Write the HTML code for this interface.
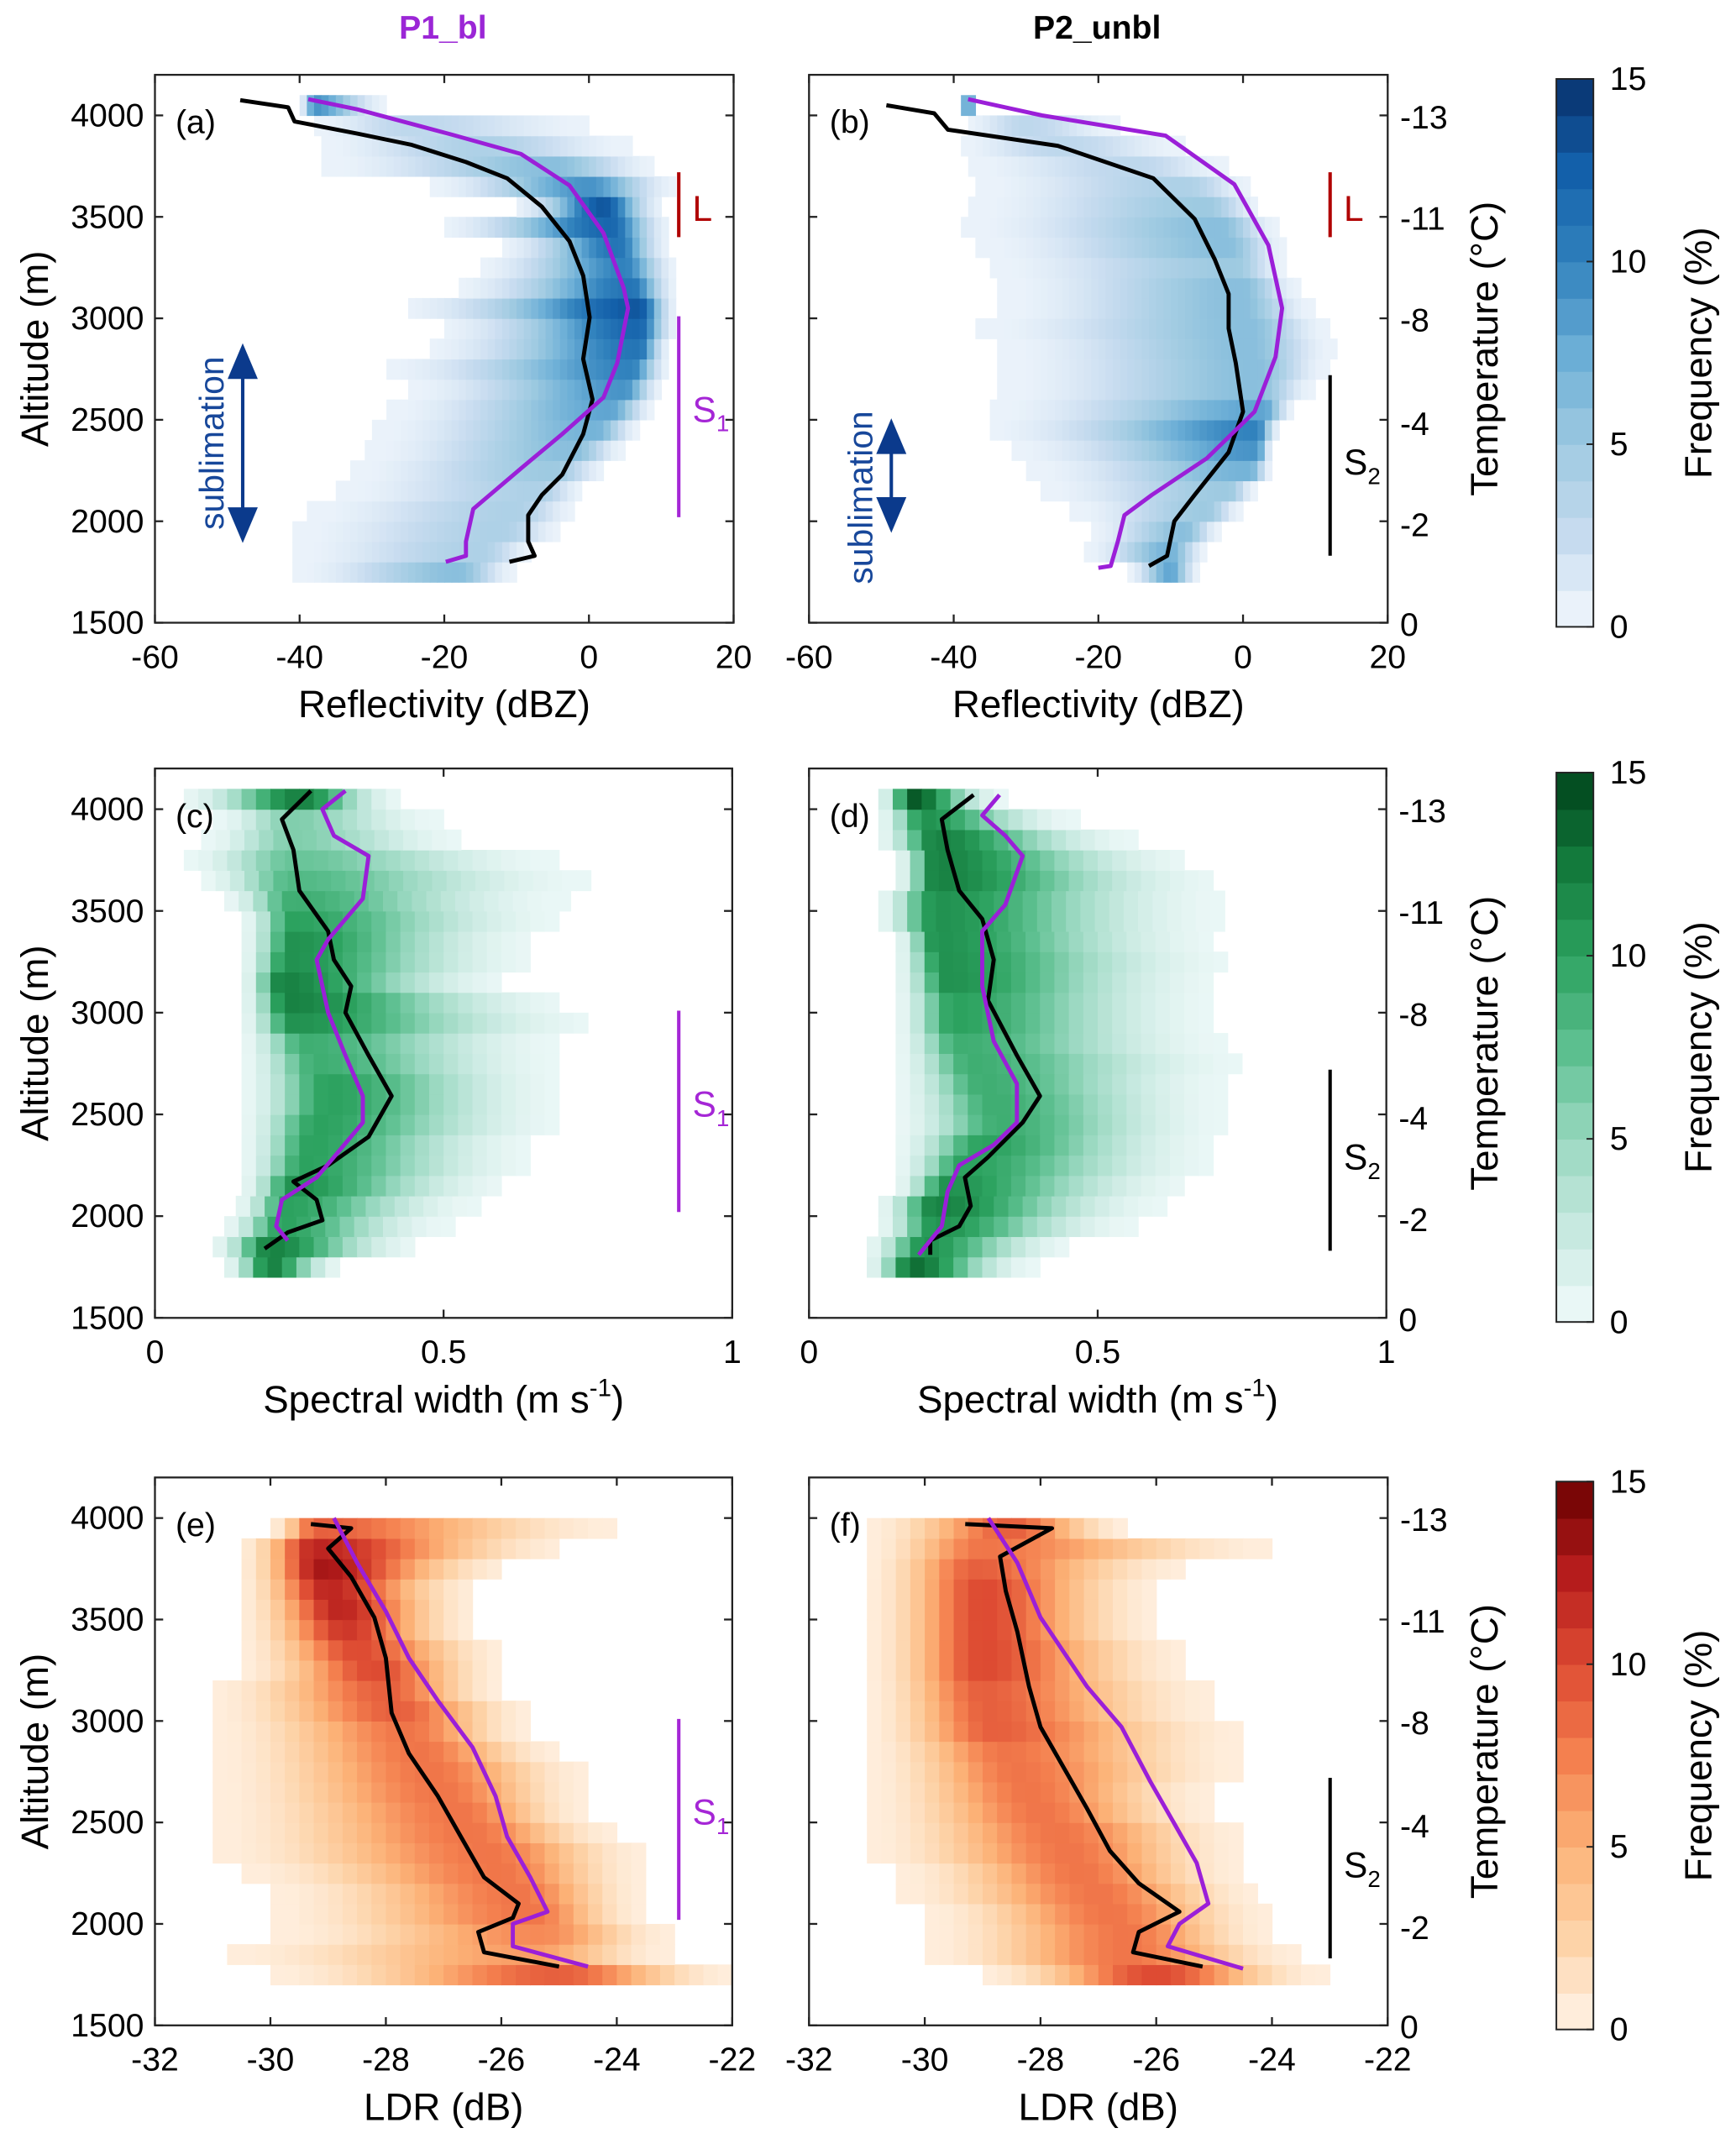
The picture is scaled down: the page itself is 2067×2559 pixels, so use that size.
<!DOCTYPE html>
<html><head><meta charset="utf-8"><style>
html,body{margin:0;padding:0;background:#fff}
svg{display:block}
text{font-family:"Liberation Sans",Arial,sans-serif}
</style></head><body>
<svg id="fig" xmlns="http://www.w3.org/2000/svg" width="2067" height="2559" viewBox="0 0 1266 1567">
<rect width="1266" height="1567" fill="#fff"/>
<text x="323" y="28" font-size="24" font-weight="bold" fill="#9b26d6" text-anchor="middle">P1_bl</text>
<text x="800" y="28" font-size="24" font-weight="bold" fill="#000" text-anchor="middle">P2_unbl</text>
<g id="layer"></g>
</svg>
<script>
// ---- data ----
const rowAlts=[1750,1850,1950,2050,2150,2250,2350,2450,2550,2650,2750,2850,2950,3050,3150,3250,3350,3450,3550,3650,3750,3850,3950,4050];
const aLo=[-42,-44,-44,-42,-38,-35,-32,-30,-28,-25,-28,-22,-20,-25,-18,-15,-12,-20,-10,-22,-38,-40,-40,-40];
const aHi=[-10,-7,-3,-1,0,3,5,7,9,10,11,11,12,12,12,12,11,11,10,12,10,8,5,-28];
const aMode=[-18,-15,-12,-10,-7,-5,-2,1,3,5,6,7,7,7,6,5,4,3,2,0,-5,-15,-25,-38];
const aPeak=[6,4,4,4,4,5,6,7,8,9,10,11,12,13,11,10,11,12,13,9,6,4,3,9];
const bLo=[-16,-22,-22,-25,-30,-30,-32,-35,-35,-35,-35,-35,-38,-35,-35,-38,-38,-40,-40,-40,-42,-42,-40,-39];
const bHi=[-6,-5,-3,0,2,4,4,5,7,10,12,13,12,10,8,6,6,5,3,2,0,-5,-15,-37];
const bMode=[-10,-10,-8,-5,-2,1,2,2,3,2,2,1,1,0,0,-1,-2,-3,-5,-8,-15,-25,-30,-38];
const bPeak=[8,7,6,5,5,7,9,10,8,6,6,6,6,6,6,5,6,6,5,4,3,3,3,9];
const cLo=[0.12,0.1,0.12,0.14,0.15,0.15,0.15,0.15,0.15,0.15,0.15,0.15,0.15,0.15,0.15,0.15,0.15,0.15,0.12,0.08,0.05,0.08,0.1,0.05];
const cHi=[0.32,0.45,0.5,0.55,0.6,0.65,0.65,0.7,0.7,0.7,0.7,0.7,0.75,0.7,0.6,0.65,0.65,0.7,0.7,0.75,0.7,0.55,0.5,0.42];
const cMode=[0.2,0.2,0.22,0.23,0.24,0.26,0.27,0.28,0.3,0.3,0.28,0.26,0.24,0.23,0.22,0.23,0.24,0.24,0.24,0.24,0.24,0.24,0.24,0.25];
const cPeak=[12,12,10,10,11,10,10,10,10,10,9,9,11,12,12,11,11,10,9,8,7,6,6,12];
const dLo=[0.1,0.1,0.12,0.12,0.15,0.15,0.15,0.15,0.15,0.15,0.15,0.15,0.15,0.15,0.15,0.15,0.15,0.12,0.12,0.15,0.15,0.12,0.12,0.12];
const dHi=[0.38,0.45,0.55,0.6,0.65,0.7,0.7,0.72,0.72,0.72,0.75,0.72,0.7,0.7,0.7,0.72,0.7,0.7,0.7,0.7,0.65,0.55,0.45,0.33];
const dMode=[0.18,0.2,0.22,0.22,0.24,0.27,0.3,0.33,0.32,0.3,0.28,0.26,0.25,0.25,0.24,0.23,0.22,0.22,0.22,0.22,0.22,0.22,0.2,0.18];
const dPeak=[13,11,11,12,11,10,10,9,9,9,9,9,10,10,11,11,11,11,11,12,12,12,11,14];
const eLo=[-30,-31,-30,-30,-30,-30.5,-31,-31,-31,-31,-31,-31,-31,-31,-31,-30.5,-30.5,-30.5,-30.5,-30.5,-30.5,-30.5,-30];
const eHi=[-22,-23,-23,-23.5,-23.5,-23.5,-23.5,-24,-24.5,-24.5,-24.5,-25,-25.5,-25.5,-26,-26,-26,-26.5,-26.5,-26.5,-26,-25,-24];
const eMode=[-25,-25.5,-25.3,-25.5,-25.7,-26,-26.2,-26.5,-26.7,-27,-27.2,-27.4,-27.6,-27.8,-28,-28.2,-28.5,-28.7,-28.8,-29,-29.1,-29.2,-29.2];
const ePeak=[9,6,7,8,8,8,8,8,8,8,8,8,8,9,9,10,10,11,12,12,13,12,9];
const fLo=[-29,-30,-30,-30,-30.5,-30.5,-31,-31,-31,-31,-31,-31,-31,-31,-31,-31,-31,-31,-31,-31,-31,-31,-31];
const fHi=[-23.2,-23.5,-24,-24,-24.2,-24.5,-24.5,-24.5,-25,-25,-24.5,-24.5,-24.5,-25,-25,-25.5,-25.5,-26,-26,-26,-25.5,-24,-26.5];
const fMode=[-26,-26.5,-26.5,-26.8,-27,-27.3,-27.5,-27.7,-28,-28.2,-28.4,-28.6,-28.8,-28.9,-29,-29,-29,-29,-29,-29,-29.1,-29,-28.5];
const fPeak=[10,8,8,8,8,8,8,8,8,8,8,8,9,9,9,10,10,10,10,10,9,8,9];
const aBlkAlt=[1800,1830,1900,2030,2130,2230,2430,2600,2800,3005,3210,3380,3550,3690,3770,3855,3910,3970,4040,4075];
const aBlkVal=[-11,-7.5,-8.4,-8.4,-6.5,-3.7,-0.8,0.5,-0.8,0.1,-0.8,-2.7,-6.5,-11.3,-17,-24.5,-32,-40.7,-41.6,-48.2];
const aPurAlt=[1800,1830,1900,2060,2260,2430,2610,2780,3050,3150,3420,3655,3810,3905,4030,4080];
const aPurVal=[-19.8,-17,-17,-16,-9.4,-3.7,2,3.9,5.4,4.8,2,-2.7,-9.4,-18.9,-32,-38.8];
const bBlkAlt=[1780,1830,2000,2130,2340,2540,2780,2950,3120,3290,3490,3690,3850,3930,4010,4050];
const bBlkVal=[-13,-10.5,-9.5,-6.7,-2,0,-1,-2,-2,-3.9,-6.7,-12.4,-25.6,-40.8,-42.7,-49.3];
const bPurAlt=[1770,1780,1900,2030,2130,2310,2540,2810,3050,3360,3660,3900,4000,4080];
const bPurVal=[-20,-18.3,-17.3,-16.4,-12.6,-5,1.6,4.5,5.4,3.5,-1.2,-10.7,-27.8,-38];
const cBlkAlt=[1840,1920,1980,2080,2170,2250,2390,2590,2790,3000,3130,3260,3400,3600,3800,3950,4090];
const cBlkVal=[0.19,0.23,0.29,0.28,0.24,0.30,0.37,0.41,0.37,0.33,0.34,0.31,0.30,0.25,0.24,0.22,0.27];
const cPurAlt=[1880,1950,2080,2190,2290,2460,2590,2790,3000,3260,3360,3560,3770,3870,4000,4090];
const cPurVal=[0.23,0.21,0.22,0.28,0.31,0.36,0.36,0.33,0.30,0.28,0.30,0.36,0.37,0.31,0.29,0.33];
const dBlkAlt=[1810,1880,1950,2050,2190,2290,2460,2590,2790,3060,3260,3460,3600,3800,3950,4070];
const dBlkVal=[0.21,0.21,0.26,0.28,0.27,0.31,0.37,0.40,0.36,0.31,0.32,0.30,0.26,0.24,0.23,0.285];
const dPurAlt=[1810,1950,2120,2250,2350,2460,2650,2860,3130,3400,3530,3770,3870,3970,4070];
const dPurVal=[0.19,0.23,0.24,0.26,0.32,0.36,0.36,0.32,0.30,0.30,0.34,0.37,0.34,0.30,0.33];
const eBlkAlt=[1790,1860,1960,2030,2100,2230,2430,2630,2840,3040,3310,3510,3710,3850,3950,3970];
const eBlkVal=[-25,-26.3,-26.4,-25.8,-25.7,-26.3,-26.7,-27.1,-27.6,-27.9,-28,-28.2,-28.6,-29,-28.6,-29.3];
const ePurAlt=[1790,1890,2000,2060,2230,2430,2630,2870,3100,3310,3540,3780,4000];
const ePurVal=[-24.5,-25.8,-25.8,-25.2,-25.5,-25.9,-26.1,-26.5,-27.1,-27.6,-28,-28.5,-28.9];
const fBlkAlt=[1790,1860,1960,2060,2200,2360,2570,2770,2970,3170,3440,3640,3810,3950,3970];
const fBlkVal=[-25.2,-26.4,-26.3,-25.6,-26.3,-26.8,-27.2,-27.6,-28,-28.2,-28.4,-28.6,-28.7,-27.8,-29.3];
const fPurAlt=[1780,1890,2000,2100,2300,2500,2700,2970,3170,3510,3780,4000];
const fPurVal=[-24.5,-25.8,-25.6,-25.1,-25.3,-25.7,-26.1,-26.6,-27.2,-28,-28.4,-28.9];
const tempLabels=["-13","-11","-8","-4","-2","0"];
const tempAlts=[3990,3490,2990,2480,1980,1490];
const altTicks=[1500,2000,2500,3000,3500,4000];
const cbTicks=[0,5,10,15];

const NS="http://www.w3.org/2000/svg";
const layer=document.getElementById('layer');
function mk(tag,attrs,parent){const e=document.createElementNS(NS,tag);for(const k in attrs)e.setAttribute(k,attrs[k]);(parent||layer).appendChild(e);return e;}
function lerpC(stops,t){t=Math.max(0,Math.min(1,t));const n=stops.length-1;const i=Math.min(n-1,Math.floor(t*n));const f=t*n-i;const a=stops[i],b=stops[i+1];
 const h=s=>[parseInt(s.slice(1,3),16),parseInt(s.slice(3,5),16),parseInt(s.slice(5,7),16)];const A=h(a),B=h(b);
 return 'rgb('+A.map((v,j)=>Math.round(v+(B[j]-v)*f)).join(',')+')';}
const blues=['#f3f8fd','#c6dbef','#9ecae1','#6baed6','#3182bd','#1360aa','#08306b'];
const greens=['#f2fafb','#c7e9e0','#99d8c0','#5cbf8f','#2ca25f','#137a3c','#00441b'];
const reds=['#fff4e8','#fdd3a8','#fcb277','#f4804f','#dd4a32','#b51c1c','#6b0000'];

const panels=[
 {id:'a',x0:113,x1:535,yb:454,y4:84,xmin:-60,xmax:20,bin:1,lo:aLo,hi:aHi,mode:aMode,peak:aPeak,cm:blues,bA:aBlkAlt,bV:aBlkVal,pA:aPurAlt,pV:aPurVal,xt:[-60,-40,-20,0,20],xtl:["-60","-40","-20","0","20"],xtitle:"Reflectivity (dBZ)",left:true},
 {id:'b',x0:590,x1:1012,yb:454,y4:84,xmin:-60,xmax:20,bin:1,lo:bLo,hi:bHi,mode:bMode,peak:bPeak,cm:blues,bA:bBlkAlt,bV:bBlkVal,pA:bPurAlt,pV:bPurVal,xt:[-60,-40,-20,0,20],xtl:["-60","-40","-20","0","20"],xtitle:"Reflectivity (dBZ)",left:false},
 {id:'c',x0:113,x1:534,yb:961,y4:590,xmin:0,xmax:1,bin:0.025,lo:cLo,hi:cHi,mode:cMode,peak:cPeak,cm:greens,bA:cBlkAlt,bV:cBlkVal,pA:cPurAlt,pV:cPurVal,xt:[0,0.5,1],xtl:["0","0.5","1"],xtitle:"sw",left:true},
 {id:'d',x0:590,x1:1011,yb:961,y4:590,xmin:0,xmax:1,bin:0.025,lo:dLo,hi:dHi,mode:dMode,peak:dPeak,cm:greens,bA:dBlkAlt,bV:dBlkVal,pA:dPurAlt,pV:dPurVal,xt:[0,0.5,1],xtl:["0","0.5","1"],xtitle:"sw",left:false},
 {id:'e',x0:113,x1:534,yb:1477,y4:1107,xmin:-32,xmax:-22,bin:0.25,lo:eLo,hi:eHi,mode:eMode,peak:ePeak,cm:reds,bA:eBlkAlt,bV:eBlkVal,pA:ePurAlt,pV:ePurVal,xt:[-32,-30,-28,-26,-24,-22],xtl:["-32","-30","-28","-26","-24","-22"],xtitle:"LDR (dB)",left:true},
 {id:'f',x0:590,x1:1012,yb:1477,y4:1107,xmin:-32,xmax:-22,bin:0.25,lo:fLo,hi:fHi,mode:fMode,peak:fPeak,cm:reds,bA:fBlkAlt,bV:fBlkVal,pA:fPurAlt,pV:fPurVal,xt:[-32,-30,-28,-26,-24,-22],xtl:["-32","-30","-28","-26","-24","-22"],xtitle:"LDR (dB)",left:false}
];

panels.forEach(p=>{
 const sx=v=>p.x0+(v-p.xmin)/(p.xmax-p.xmin)*(p.x1-p.x0);
 const k=(p.yb-p.y4)/2500;
 const sy=a=>p.yb-(a-1500)*k;
 const yt=sy(4200);
 const g=mk('g',{});
 
 
 for(let r=0;r<p.lo.length;r++){
  const alt=rowAlts[r];
  const lo=p.lo[r],hi=p.hi[r],m=p.mode[r],pk=p.peak[r];
  const sl=Math.max((m-lo)/1.8,p.bin),sr=Math.max((hi-m)/1.8,p.bin);
  for(let x=lo;x<hi-1e-9;x+=p.bin){
   const c=x+p.bin/2;const s=c<m?sl:sr;
   let v=pk*Math.exp(-Math.pow((c-m)/s,2));
   if(v<0.3)continue;
   if(v<0.5)v=0.5;
   const rc=mk('rect',{x:sx(x).toFixed(2),y:sy(alt+50).toFixed(2),width:(sx(x+p.bin)-sx(x)+0.4).toFixed(2),height:(sy(alt-50)-sy(alt+50)+0.4).toFixed(2),fill:lerpC(p.cm,v/15)},g);
   
   
  }
 }
 const line=(A,V,col,name)=>{const pts=A.map((a,i)=>sx(V[i]).toFixed(1)+','+sy(a).toFixed(1)).join(' ');
  const pl=mk('polyline',{points:pts,fill:'none',stroke:col,'stroke-width':3,'stroke-linejoin':'round'},g);
  
  };
 line(p.bA,p.bV,'#000','mean-line-black');
 line(p.pA,p.pV,'#9b1fd8','mean-line-purple');
 const bx=mk('rect',{x:p.x0,y:yt,width:p.x1-p.x0,height:p.yb-yt,fill:'none',stroke:'#222','stroke-width':1.4},g);
 
 
 altTicks.forEach(a=>{const y=sy(a);
  mk('line',{x1:p.x0,y1:y,x2:p.x0+6,y2:y,stroke:'#222','stroke-width':1.4},g);
  mk('line',{x1:p.x1,y1:y,x2:p.x1-6,y2:y,stroke:'#222','stroke-width':1.4},g);
  if(p.left){const t=mk('text',{x:p.x0-8,y:y+8,'font-size':24,'text-anchor':'end'},g);t.textContent=a;
   
   }
 });
 p.xt.forEach((v,i)=>{const x=sx(v);
  mk('line',{x1:x,y1:p.yb,x2:x,y2:p.yb-6,stroke:'#222','stroke-width':1.4},g);
  mk('line',{x1:x,y1:yt,x2:x,y2:yt+6,stroke:'#222','stroke-width':1.4},g);
  const t=mk('text',{x:x,y:p.yb+33,'font-size':24,'text-anchor':'middle'},g);t.textContent=p.xtl[i];
  
  
 });
 const cx=(p.x0+p.x1)/2;
 const xt=mk('text',{x:cx,y:p.yb+69,'font-size':28,'text-anchor':'middle'},g);
 
 
 if(p.xtitle==='sw'){xt.innerHTML='Spectral width (m s<tspan dy="-12" font-size="18">-1</tspan><tspan dy="12">)</tspan>';}
 else xt.textContent=p.xtitle;
 const pl=mk('text',{x:p.x0+15,y:sy(4000)+13,'font-size':24},g);pl.textContent='('+p.id+')';
 
 
 const ymid=(yt+p.yb)/2;
 if(p.left){
  const at=mk('text',{x:0,y:0,'font-size':28,'text-anchor':'middle',transform:'translate(35,'+ymid+') rotate(-90)'},g);at.textContent='Altitude (m)';
  
  
 } else {
  tempAlts.forEach((a,i)=>{const t=mk('text',{x:p.x1+9,y:sy(a)+8,'font-size':24},g);t.textContent=tempLabels[i];
   
   });
  const tt=mk('text',{x:0,y:0,'font-size':28,'text-anchor':'middle',transform:'translate(1092,'+ymid+') rotate(-90)'},g);tt.textContent='Temperature (°C)';
  
  
  const cb=mk('g',{},layer);
  
  
  const cy0=yt+3,cy1=p.yb+3,cxl=1135,cw=27;const N=15;
  for(let i=0;i<N;i++){mk('rect',{x:cxl,y:cy1-(i+1)*(cy1-cy0)/N,width:cw,height:(cy1-cy0)/N+0.5,fill:lerpC(p.cm,(i+0.5)/N)},cb);}
  mk('rect',{x:cxl,y:cy0,width:cw,height:cy1-cy0,fill:'none',stroke:'#222','stroke-width':1.2},cb);
  cbTicks.forEach(v=>{const y=cy1-v/15*(cy1-cy0);mk('line',{x1:cxl+cw,y1:y,x2:cxl+cw-5,y2:y,stroke:'#222','stroke-width':1.2},cb);
   const t=mk('text',{x:cxl+cw+12,y:y+8,'font-size':24},cb);t.textContent=v;});
  const ft=mk('text',{x:0,y:0,'font-size':28,'text-anchor':'middle',transform:'translate(1248,'+(cy0+cy1)/2+') rotate(-90)'},cb);ft.textContent='Frequency (%)';
  
  
 }
 const seg=(x,a1,a2,col,lab,sub,name,ly)=>{const s=mk('line',{x1:x,y1:sy(a1),x2:x,y2:sy(a2),stroke:col,'stroke-width':2.5},g);
  
  
  const t=mk('text',{x:x+10,y:ly,'font-size':26,fill:col},g);
  
  
  t.appendChild(document.createTextNode(lab));
  if(sub){const ts=mk('tspan',{dy:7,'font-size':17},t);ts.textContent=sub;}};
 if(p.id==='a'||p.id==='b'){seg(p.id==='a'?495:970,3720,3400,'#b00000','L','','layer-marker-l',sy(3480));}
 if(p.left){seg(495,3010,2020,'#a526d6','S','1','s1-marker',sy(2490));}
 else {seg(970,2720,1830,'#000','S','2','s2-marker',sy(2230));}
 if(p.id==='a'||p.id==='b'){
  const ax=p.id==='a'?177:650;const a1=p.id==='a'?2850:2480,a2=p.id==='a'?1920:1970;
  const y1=sy(a1),y2=sy(a2);const col='#0b3a8c';
  const ar=mk('g',{},g);
  
  
  mk('line',{x1:ax,y1:y1+14,x2:ax,y2:y2-14,stroke:col,'stroke-width':2.5},ar);
  mk('polygon',{points:`${ax-11},${y1+22} ${ax+11},${y1+22} ${ax},${y1-4}`,fill:col},ar);
  mk('polygon',{points:`${ax-11},${y2-22} ${ax+11},${y2-22} ${ax},${y2+4}`,fill:col},ar);
  const tx=ax-22,ty=p.id==='a'?(y1+y2)/2:(y1+y2)/2+16;
  const st=mk('text',{x:0,y:0,'font-size':25,fill:'#17479a','text-anchor':'middle',transform:`translate(${tx+8},${ty}) rotate(-90)`},g);st.textContent='sublimation';
  
  
 }
});
</script>
</body></html>
